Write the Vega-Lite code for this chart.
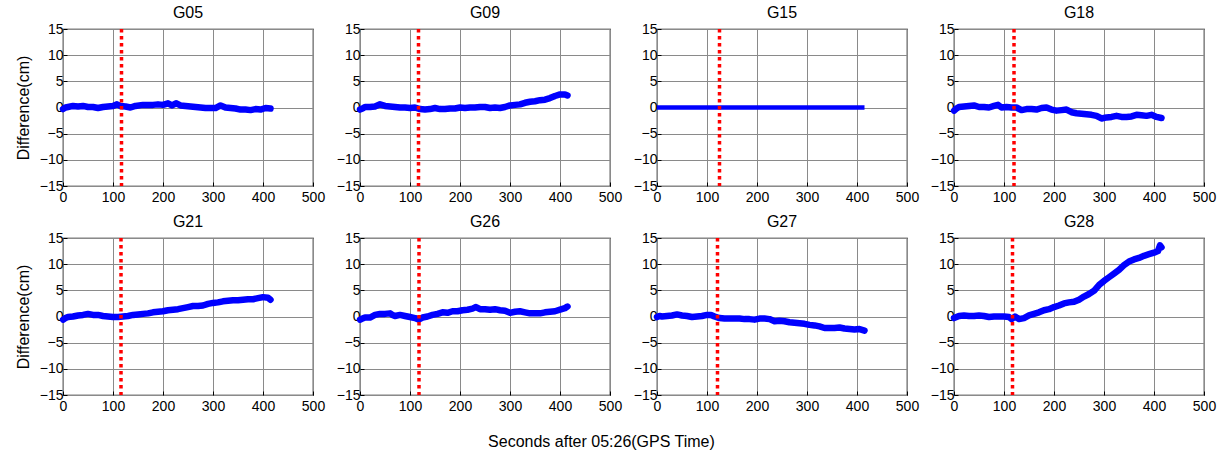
{
"$schema":"https://vega.github.io/schema/vega-lite/v6.json",
"padding":{"left":14,"top":4,"right":10,"bottom":10},
"background":"#ffffff",
"config":{
 "font":"Liberation Sans",
 "view":{"stroke":"#000000","strokeWidth":1.2},
 "axis":{"grid":true,"gridColor":"#8a8a8a","gridOpacity":1,"gridWidth":1,"domain":false,"labelFont":"Liberation Sans","labelFontSize":14,"labelColor":"#000000","tickColor":"#000000","tickSize":-4,"labelPadding":4,"labelFlush":false,"labelOverlap":false,"titleFont":"Liberation Sans","titleFontSize":16,"titleFontWeight":"normal","titleColor":"#000000","titlePadding":8},
 "axisX":{"labelPadding":8},
 "title":{"font":"Liberation Sans","fontSize":16,"fontWeight":"normal","color":"#000000","offset":1}
},
"title":{"text":"Seconds after 05:26(GPS Time)","orient":"bottom","anchor":"middle","fontSize":16,"offset":20,"dx":-14},
"datasets":{
 "events":[{"sat":"G05","t":117},{"sat":"G09","t":117},{"sat":"G15","t":125},{"sat":"G18","t":120},{"sat":"G21","t":116},{"sat":"G26","t":118},{"sat":"G27","t":121},{"sat":"G28","t":117}],
 "series":[
{"sat":"G05","t":0,"d":-0.3},{"sat":"G05","t":5,"d":0},{"sat":"G05","t":10,"d":0.1},{"sat":"G05","t":20,"d":0.3},{"sat":"G05","t":30,"d":0.2},{"sat":"G05","t":40,"d":0.3},{"sat":"G05","t":50,"d":0.1},{"sat":"G05","t":60,"d":0.1},{"sat":"G05","t":70,"d":-0.1},{"sat":"G05","t":80,"d":0.1},{"sat":"G05","t":90,"d":0.2},{"sat":"G05","t":100,"d":0.3},{"sat":"G05","t":108,"d":0.6},{"sat":"G05","t":115,"d":0.3},{"sat":"G05","t":125,"d":0.2},{"sat":"G05","t":135,"d":0},{"sat":"G05","t":145,"d":0.3},{"sat":"G05","t":160,"d":0.5},{"sat":"G05","t":170,"d":0.5},{"sat":"G05","t":180,"d":0.5},{"sat":"G05","t":190,"d":0.6},{"sat":"G05","t":200,"d":0.5},{"sat":"G05","t":210,"d":0.8},{"sat":"G05","t":218,"d":0.4},{"sat":"G05","t":226,"d":0.8},{"sat":"G05","t":235,"d":0.4},{"sat":"G05","t":245,"d":0.3},{"sat":"G05","t":255,"d":0.2},{"sat":"G05","t":265,"d":0.1},{"sat":"G05","t":275,"d":0},{"sat":"G05","t":285,"d":-0.1},{"sat":"G05","t":295,"d":-0.1},{"sat":"G05","t":305,"d":-0.1},{"sat":"G05","t":315,"d":0.4},{"sat":"G05","t":325,"d":0},{"sat":"G05","t":335,"d":-0.1},{"sat":"G05","t":345,"d":-0.2},{"sat":"G05","t":355,"d":-0.4},{"sat":"G05","t":365,"d":-0.4},{"sat":"G05","t":375,"d":-0.5},{"sat":"G05","t":385,"d":-0.3},{"sat":"G05","t":395,"d":-0.4},{"sat":"G05","t":405,"d":-0.1},{"sat":"G05","t":415,"d":-0.2},
{"sat":"G09","t":0,"d":-0.4},{"sat":"G09","t":5,"d":-0.2},{"sat":"G09","t":10,"d":0.1},{"sat":"G09","t":20,"d":0.1},{"sat":"G09","t":30,"d":0.2},{"sat":"G09","t":40,"d":0.6},{"sat":"G09","t":50,"d":0.3},{"sat":"G09","t":60,"d":0.2},{"sat":"G09","t":70,"d":0.1},{"sat":"G09","t":80,"d":0},{"sat":"G09","t":90,"d":0},{"sat":"G09","t":100,"d":-0.1},{"sat":"G09","t":110,"d":0},{"sat":"G09","t":120,"d":-0.3},{"sat":"G09","t":130,"d":-0.4},{"sat":"G09","t":140,"d":-0.3},{"sat":"G09","t":150,"d":-0.1},{"sat":"G09","t":160,"d":-0.3},{"sat":"G09","t":170,"d":-0.3},{"sat":"G09","t":180,"d":-0.2},{"sat":"G09","t":190,"d":-0.2},{"sat":"G09","t":200,"d":0},{"sat":"G09","t":210,"d":-0.1},{"sat":"G09","t":220,"d":0},{"sat":"G09","t":230,"d":0},{"sat":"G09","t":240,"d":0.1},{"sat":"G09","t":250,"d":0.1},{"sat":"G09","t":260,"d":-0.1},{"sat":"G09","t":270,"d":0},{"sat":"G09","t":280,"d":-0.1},{"sat":"G09","t":290,"d":0.1},{"sat":"G09","t":300,"d":0.4},{"sat":"G09","t":310,"d":0.5},{"sat":"G09","t":320,"d":0.6},{"sat":"G09","t":330,"d":0.9},{"sat":"G09","t":340,"d":1.1},{"sat":"G09","t":350,"d":1.2},{"sat":"G09","t":360,"d":1.4},{"sat":"G09","t":370,"d":1.5},{"sat":"G09","t":380,"d":1.8},{"sat":"G09","t":390,"d":2.2},{"sat":"G09","t":400,"d":2.5},{"sat":"G09","t":410,"d":2.5},{"sat":"G09","t":415,"d":2.3},
{"sat":"G15","t":0,"d":0},{"sat":"G15","t":100,"d":0},{"sat":"G15","t":200,"d":0},{"sat":"G15","t":300,"d":0},{"sat":"G15","t":415,"d":0},
{"sat":"G18","t":0,"d":-0.6},{"sat":"G18","t":5,"d":-0.2},{"sat":"G18","t":10,"d":0.1},{"sat":"G18","t":20,"d":0.2},{"sat":"G18","t":30,"d":0.3},{"sat":"G18","t":40,"d":0.4},{"sat":"G18","t":50,"d":0.1},{"sat":"G18","t":60,"d":0.1},{"sat":"G18","t":70,"d":0},{"sat":"G18","t":80,"d":0.3},{"sat":"G18","t":88,"d":0.5},{"sat":"G18","t":95,"d":0},{"sat":"G18","t":105,"d":0.1},{"sat":"G18","t":115,"d":0},{"sat":"G18","t":125,"d":0},{"sat":"G18","t":135,"d":-0.5},{"sat":"G18","t":145,"d":-0.3},{"sat":"G18","t":155,"d":-0.3},{"sat":"G18","t":165,"d":-0.4},{"sat":"G18","t":175,"d":-0.1},{"sat":"G18","t":185,"d":0},{"sat":"G18","t":195,"d":-0.4},{"sat":"G18","t":205,"d":-0.6},{"sat":"G18","t":215,"d":-0.5},{"sat":"G18","t":225,"d":-0.4},{"sat":"G18","t":235,"d":-0.9},{"sat":"G18","t":245,"d":-1.1},{"sat":"G18","t":255,"d":-1.2},{"sat":"G18","t":265,"d":-1.3},{"sat":"G18","t":275,"d":-1.4},{"sat":"G18","t":285,"d":-1.6},{"sat":"G18","t":295,"d":-2.1},{"sat":"G18","t":305,"d":-1.9},{"sat":"G18","t":315,"d":-1.8},{"sat":"G18","t":325,"d":-1.6},{"sat":"G18","t":335,"d":-1.8},{"sat":"G18","t":345,"d":-1.8},{"sat":"G18","t":355,"d":-1.7},{"sat":"G18","t":365,"d":-1.4},{"sat":"G18","t":375,"d":-1.5},{"sat":"G18","t":385,"d":-1.6},{"sat":"G18","t":395,"d":-1.4},{"sat":"G18","t":405,"d":-1.8},{"sat":"G18","t":415,"d":-2.0},
{"sat":"G21","t":0,"d":-0.6},{"sat":"G21","t":5,"d":-0.3},{"sat":"G21","t":10,"d":-0.1},{"sat":"G21","t":20,"d":0},{"sat":"G21","t":30,"d":0.2},{"sat":"G21","t":40,"d":0.3},{"sat":"G21","t":50,"d":0.5},{"sat":"G21","t":60,"d":0.3},{"sat":"G21","t":70,"d":0.3},{"sat":"G21","t":80,"d":0.1},{"sat":"G21","t":90,"d":0},{"sat":"G21","t":100,"d":-0.1},{"sat":"G21","t":110,"d":-0.1},{"sat":"G21","t":120,"d":0},{"sat":"G21","t":130,"d":0.1},{"sat":"G21","t":140,"d":0.3},{"sat":"G21","t":150,"d":0.4},{"sat":"G21","t":160,"d":0.5},{"sat":"G21","t":170,"d":0.6},{"sat":"G21","t":180,"d":0.8},{"sat":"G21","t":190,"d":0.9},{"sat":"G21","t":200,"d":1.0},{"sat":"G21","t":210,"d":1.2},{"sat":"G21","t":220,"d":1.3},{"sat":"G21","t":230,"d":1.4},{"sat":"G21","t":240,"d":1.6},{"sat":"G21","t":250,"d":1.8},{"sat":"G21","t":260,"d":2.0},{"sat":"G21","t":270,"d":2.0},{"sat":"G21","t":280,"d":2.1},{"sat":"G21","t":290,"d":2.4},{"sat":"G21","t":300,"d":2.6},{"sat":"G21","t":310,"d":2.7},{"sat":"G21","t":320,"d":2.9},{"sat":"G21","t":330,"d":3.0},{"sat":"G21","t":340,"d":3.1},{"sat":"G21","t":350,"d":3.1},{"sat":"G21","t":360,"d":3.2},{"sat":"G21","t":370,"d":3.3},{"sat":"G21","t":380,"d":3.3},{"sat":"G21","t":390,"d":3.5},{"sat":"G21","t":400,"d":3.7},{"sat":"G21","t":410,"d":3.6},{"sat":"G21","t":415,"d":3.2},
{"sat":"G26","t":0,"d":-0.6},{"sat":"G26","t":5,"d":-0.4},{"sat":"G26","t":10,"d":-0.2},{"sat":"G26","t":20,"d":-0.2},{"sat":"G26","t":30,"d":0.3},{"sat":"G26","t":40,"d":0.5},{"sat":"G26","t":50,"d":0.5},{"sat":"G26","t":60,"d":0.6},{"sat":"G26","t":65,"d":0.3},{"sat":"G26","t":70,"d":0.1},{"sat":"G26","t":80,"d":0.3},{"sat":"G26","t":90,"d":0.1},{"sat":"G26","t":100,"d":-0.1},{"sat":"G26","t":110,"d":-0.3},{"sat":"G26","t":117,"d":-0.6},{"sat":"G26","t":125,"d":-0.2},{"sat":"G26","t":135,"d":0},{"sat":"G26","t":145,"d":0.3},{"sat":"G26","t":155,"d":0.5},{"sat":"G26","t":165,"d":0.8},{"sat":"G26","t":175,"d":0.7},{"sat":"G26","t":185,"d":1.0},{"sat":"G26","t":195,"d":1.0},{"sat":"G26","t":205,"d":1.2},{"sat":"G26","t":215,"d":1.3},{"sat":"G26","t":225,"d":1.5},{"sat":"G26","t":232,"d":1.8},{"sat":"G26","t":240,"d":1.4},{"sat":"G26","t":250,"d":1.4},{"sat":"G26","t":260,"d":1.3},{"sat":"G26","t":270,"d":1.4},{"sat":"G26","t":280,"d":1.2},{"sat":"G26","t":290,"d":1.1},{"sat":"G26","t":300,"d":0.7},{"sat":"G26","t":310,"d":0.9},{"sat":"G26","t":320,"d":1.0},{"sat":"G26","t":330,"d":0.8},{"sat":"G26","t":340,"d":0.6},{"sat":"G26","t":350,"d":0.6},{"sat":"G26","t":360,"d":0.6},{"sat":"G26","t":370,"d":0.8},{"sat":"G26","t":380,"d":0.9},{"sat":"G26","t":390,"d":1.0},{"sat":"G26","t":400,"d":1.3},{"sat":"G26","t":410,"d":1.6},{"sat":"G26","t":415,"d":1.9},
{"sat":"G27","t":0,"d":-0.1},{"sat":"G27","t":5,"d":0.1},{"sat":"G27","t":10,"d":0},{"sat":"G27","t":20,"d":0.1},{"sat":"G27","t":30,"d":0.2},{"sat":"G27","t":40,"d":0.4},{"sat":"G27","t":50,"d":0.2},{"sat":"G27","t":60,"d":0.1},{"sat":"G27","t":70,"d":-0.1},{"sat":"G27","t":80,"d":0},{"sat":"G27","t":90,"d":0.1},{"sat":"G27","t":100,"d":0.3},{"sat":"G27","t":108,"d":0.3},{"sat":"G27","t":115,"d":0},{"sat":"G27","t":125,"d":-0.3},{"sat":"G27","t":135,"d":-0.4},{"sat":"G27","t":145,"d":-0.4},{"sat":"G27","t":155,"d":-0.4},{"sat":"G27","t":165,"d":-0.4},{"sat":"G27","t":175,"d":-0.5},{"sat":"G27","t":185,"d":-0.5},{"sat":"G27","t":195,"d":-0.6},{"sat":"G27","t":205,"d":-0.4},{"sat":"G27","t":215,"d":-0.4},{"sat":"G27","t":225,"d":-0.5},{"sat":"G27","t":235,"d":-0.9},{"sat":"G27","t":245,"d":-0.8},{"sat":"G27","t":255,"d":-0.9},{"sat":"G27","t":265,"d":-1.1},{"sat":"G27","t":275,"d":-1.2},{"sat":"G27","t":285,"d":-1.3},{"sat":"G27","t":295,"d":-1.4},{"sat":"G27","t":305,"d":-1.6},{"sat":"G27","t":315,"d":-1.7},{"sat":"G27","t":325,"d":-1.9},{"sat":"G27","t":335,"d":-2.2},{"sat":"G27","t":345,"d":-2.2},{"sat":"G27","t":355,"d":-2.2},{"sat":"G27","t":365,"d":-2.1},{"sat":"G27","t":375,"d":-2.3},{"sat":"G27","t":385,"d":-2.4},{"sat":"G27","t":395,"d":-2.5},{"sat":"G27","t":405,"d":-2.4},{"sat":"G27","t":415,"d":-2.7},
{"sat":"G28","t":0,"d":-0.3},{"sat":"G28","t":5,"d":-0.1},{"sat":"G28","t":10,"d":0.1},{"sat":"G28","t":20,"d":0.2},{"sat":"G28","t":30,"d":0.1},{"sat":"G28","t":40,"d":0.1},{"sat":"G28","t":50,"d":0.2},{"sat":"G28","t":60,"d":0.1},{"sat":"G28","t":70,"d":-0.1},{"sat":"G28","t":80,"d":0},{"sat":"G28","t":90,"d":0},{"sat":"G28","t":100,"d":0},{"sat":"G28","t":110,"d":-0.1},{"sat":"G28","t":115,"d":-0.5},{"sat":"G28","t":122,"d":0},{"sat":"G28","t":130,"d":-0.5},{"sat":"G28","t":140,"d":-0.3},{"sat":"G28","t":150,"d":0.2},{"sat":"G28","t":160,"d":0.5},{"sat":"G28","t":170,"d":0.8},{"sat":"G28","t":180,"d":1.2},{"sat":"G28","t":190,"d":1.4},{"sat":"G28","t":200,"d":1.8},{"sat":"G28","t":210,"d":2.1},{"sat":"G28","t":220,"d":2.5},{"sat":"G28","t":230,"d":2.7},{"sat":"G28","t":240,"d":2.8},{"sat":"G28","t":250,"d":3.2},{"sat":"G28","t":260,"d":3.8},{"sat":"G28","t":270,"d":4.3},{"sat":"G28","t":280,"d":4.9},{"sat":"G28","t":290,"d":6.0},{"sat":"G28","t":300,"d":6.8},{"sat":"G28","t":310,"d":7.5},{"sat":"G28","t":320,"d":8.2},{"sat":"G28","t":330,"d":8.9},{"sat":"G28","t":340,"d":9.8},{"sat":"G28","t":350,"d":10.5},{"sat":"G28","t":360,"d":10.9},{"sat":"G28","t":370,"d":11.2},{"sat":"G28","t":380,"d":11.6},{"sat":"G28","t":390,"d":11.9},{"sat":"G28","t":400,"d":12.2},{"sat":"G28","t":408,"d":12.5},{"sat":"G28","t":412,"d":13.6},{"sat":"G28","t":415,"d":13.2}
 ]
},
"spacing":8,
"vconcat":[
 {"spacing":9,"hconcat":[
  {"width":250,"height":157,"title":"G05","layer":[
   {"data":{"name":"series"},"transform":[{"filter":"datum.sat === 'G05'"}],"mark":{"type":"line","color":"#0000ff","strokeWidth":6.5,"strokeCap":"round","strokeJoin":"round"},"encoding":{"x":{"field":"t","type":"quantitative","scale":{"domain":[0,500]},"axis":{"values":[0,100,200,300,400,500],"title":null}},"y":{"field":"d","type":"quantitative","scale":{"domain":[-15,15]},"axis":{"values":[-15,-10,-5,0,5,10,15],"title":"Difference(cm)"}}}},
   {"data":{"name":"events"},"transform":[{"filter":"datum.sat === 'G05'"}],"mark":{"type":"rule","color":"#ff0000","strokeWidth":3.5,"strokeDash":[3.5,3.5]},"encoding":{"x":{"field":"t","type":"quantitative"}}}
  ]},
  {"width":250,"height":157,"title":"G09","layer":[
   {"data":{"name":"series"},"transform":[{"filter":"datum.sat === 'G09'"}],"mark":{"type":"line","color":"#0000ff","strokeWidth":6.5,"strokeCap":"round","strokeJoin":"round"},"encoding":{"x":{"field":"t","type":"quantitative","scale":{"domain":[0,500]},"axis":{"values":[0,100,200,300,400,500],"title":null}},"y":{"field":"d","type":"quantitative","scale":{"domain":[-15,15]},"axis":{"values":[-15,-10,-5,0,5,10,15],"title":null}}}},
   {"data":{"name":"events"},"transform":[{"filter":"datum.sat === 'G09'"}],"mark":{"type":"rule","color":"#ff0000","strokeWidth":3.5,"strokeDash":[3.5,3.5]},"encoding":{"x":{"field":"t","type":"quantitative"}}}
  ]},
  {"width":250,"height":157,"title":"G15","layer":[
   {"data":{"name":"series"},"transform":[{"filter":"datum.sat === 'G15'"}],"mark":{"type":"line","color":"#0000ff","strokeWidth":4.5,"strokeCap":"butt"},"encoding":{"x":{"field":"t","type":"quantitative","scale":{"domain":[0,500]},"axis":{"values":[0,100,200,300,400,500],"title":null}},"y":{"field":"d","type":"quantitative","scale":{"domain":[-15,15]},"axis":{"values":[-15,-10,-5,0,5,10,15],"title":null}}}},
   {"data":{"name":"events"},"transform":[{"filter":"datum.sat === 'G15'"}],"mark":{"type":"rule","color":"#ff0000","strokeWidth":3.5,"strokeDash":[3.5,3.5]},"encoding":{"x":{"field":"t","type":"quantitative"}}}
  ]},
  {"width":250,"height":157,"title":"G18","layer":[
   {"data":{"name":"series"},"transform":[{"filter":"datum.sat === 'G18'"}],"mark":{"type":"line","color":"#0000ff","strokeWidth":6.5,"strokeCap":"round","strokeJoin":"round"},"encoding":{"x":{"field":"t","type":"quantitative","scale":{"domain":[0,500]},"axis":{"values":[0,100,200,300,400,500],"title":null}},"y":{"field":"d","type":"quantitative","scale":{"domain":[-15,15]},"axis":{"values":[-15,-10,-5,0,5,10,15],"title":null}}}},
   {"data":{"name":"events"},"transform":[{"filter":"datum.sat === 'G18'"}],"mark":{"type":"rule","color":"#ff0000","strokeWidth":3.5,"strokeDash":[3.5,3.5]},"encoding":{"x":{"field":"t","type":"quantitative"}}}
  ]}
 ]},
 {"spacing":9,"hconcat":[
  {"width":250,"height":157,"title":"G21","layer":[
   {"data":{"name":"series"},"transform":[{"filter":"datum.sat === 'G21'"}],"mark":{"type":"line","color":"#0000ff","strokeWidth":6.5,"strokeCap":"round","strokeJoin":"round"},"encoding":{"x":{"field":"t","type":"quantitative","scale":{"domain":[0,500]},"axis":{"values":[0,100,200,300,400,500],"title":null}},"y":{"field":"d","type":"quantitative","scale":{"domain":[-15,15]},"axis":{"values":[-15,-10,-5,0,5,10,15],"title":"Difference(cm)"}}}},
   {"data":{"name":"events"},"transform":[{"filter":"datum.sat === 'G21'"}],"mark":{"type":"rule","color":"#ff0000","strokeWidth":3.5,"strokeDash":[3.5,3.5]},"encoding":{"x":{"field":"t","type":"quantitative"}}}
  ]},
  {"width":250,"height":157,"title":"G26","layer":[
   {"data":{"name":"series"},"transform":[{"filter":"datum.sat === 'G26'"}],"mark":{"type":"line","color":"#0000ff","strokeWidth":6.5,"strokeCap":"round","strokeJoin":"round"},"encoding":{"x":{"field":"t","type":"quantitative","scale":{"domain":[0,500]},"axis":{"values":[0,100,200,300,400,500],"title":null}},"y":{"field":"d","type":"quantitative","scale":{"domain":[-15,15]},"axis":{"values":[-15,-10,-5,0,5,10,15],"title":null}}}},
   {"data":{"name":"events"},"transform":[{"filter":"datum.sat === 'G26'"}],"mark":{"type":"rule","color":"#ff0000","strokeWidth":3.5,"strokeDash":[3.5,3.5]},"encoding":{"x":{"field":"t","type":"quantitative"}}}
  ]},
  {"width":250,"height":157,"title":"G27","layer":[
   {"data":{"name":"series"},"transform":[{"filter":"datum.sat === 'G27'"}],"mark":{"type":"line","color":"#0000ff","strokeWidth":6.5,"strokeCap":"round","strokeJoin":"round"},"encoding":{"x":{"field":"t","type":"quantitative","scale":{"domain":[0,500]},"axis":{"values":[0,100,200,300,400,500],"title":null}},"y":{"field":"d","type":"quantitative","scale":{"domain":[-15,15]},"axis":{"values":[-15,-10,-5,0,5,10,15],"title":null}}}},
   {"data":{"name":"events"},"transform":[{"filter":"datum.sat === 'G27'"}],"mark":{"type":"rule","color":"#ff0000","strokeWidth":3.5,"strokeDash":[3.5,3.5]},"encoding":{"x":{"field":"t","type":"quantitative"}}}
  ]},
  {"width":250,"height":157,"title":"G28","layer":[
   {"data":{"name":"series"},"transform":[{"filter":"datum.sat === 'G28'"}],"mark":{"type":"line","color":"#0000ff","strokeWidth":6.5,"strokeCap":"round","strokeJoin":"round"},"encoding":{"x":{"field":"t","type":"quantitative","scale":{"domain":[0,500]},"axis":{"values":[0,100,200,300,400,500],"title":null}},"y":{"field":"d","type":"quantitative","scale":{"domain":[-15,15]},"axis":{"values":[-15,-10,-5,0,5,10,15],"title":null}}}},
   {"data":{"name":"events"},"transform":[{"filter":"datum.sat === 'G28'"}],"mark":{"type":"rule","color":"#ff0000","strokeWidth":3.5,"strokeDash":[3.5,3.5]},"encoding":{"x":{"field":"t","type":"quantitative"}}}
  ]}
 ]}
]
}
